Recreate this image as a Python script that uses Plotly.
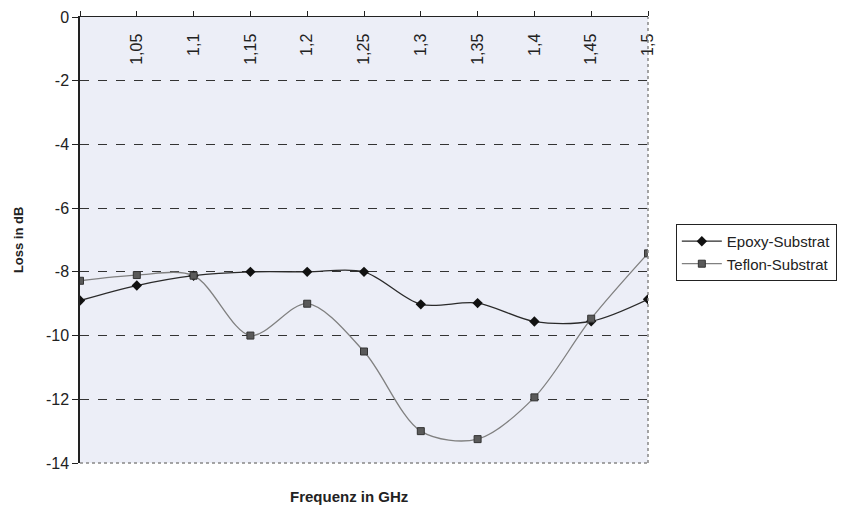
import plotly.graph_objects as go

freq = [1.0, 1.05, 1.1, 1.15, 1.2, 1.25, 1.3, 1.35, 1.4, 1.45, 1.5]
epoxy = [-8.9, -8.43, -8.12, -8.0, -8.0, -8.0, -9.02, -8.98, -9.56, -9.55, -8.86]
teflon = [-8.28, -8.1, -8.12, -10.0, -9.0, -10.5, -13.0, -13.25, -11.94, -9.47, -7.42]

x_tickvals = [1.0, 1.05, 1.1, 1.15, 1.2, 1.25, 1.3, 1.35, 1.4, 1.45, 1.5]
x_ticktext = ["", "1,05", "1,1", "1,15", "1,2", "1,25", "1,3", "1,35", "1,4", "1,45", "1,5"]
y_tickvals = [0, -2, -4, -6, -8, -10, -12, -14]
y_ticktext = ["0", "-2", "-4", "-6", "-8", "-10", "-12", "-14"]

FONT = "Liberation Sans, Arial, sans-serif"

fig = go.Figure()
fig.add_trace(go.Scatter(
    x=freq, y=epoxy, name="Epoxy-Substrat", mode="lines+markers",
    line=dict(color="#2a2a2a", width=1.3, shape="spline", smoothing=0.9),
    marker=dict(symbol="diamond", size=8, color="#111111"),
))
fig.add_trace(go.Scatter(
    x=freq, y=teflon, name="Teflon-Substrat", mode="lines+markers",
    line=dict(color="#808080", width=1.3, shape="spline", smoothing=0.9),
    marker=dict(symbol="square", size=7, color="#5a5a5a",
                line=dict(color="#333333", width=1)),
))

fig.update_layout(
    width=859, height=512,
    margin=dict(l=80, r=211, t=17, b=49),
    paper_bgcolor="white",
    plot_bgcolor="#eceef7",
    font=dict(family=FONT, size=16, color="#222222"),
    showlegend=True,
    legend=dict(
        x=1.049, y=0.536, xanchor="left", yanchor="top",
        bgcolor="rgba(255,255,255,0)", bordercolor="#222222", borderwidth=1,
        font=dict(family=FONT, size=15, color="#222222"),
        tracegroupgap=0, itemwidth=40,
    ),
    xaxis=dict(
        range=[1.0, 1.5], side="top", tickmode="array",
        tickvals=x_tickvals, ticktext=x_ticktext,
        ticks="outside", ticklen=5, tickcolor="#222222", tickwidth=1,
        ticklabelposition="inside", tickangle=-90, ticklabeloverflow="allow",
        ticklabelstandoff=8,
        showline=True, linecolor="#222222", linewidth=1.2,
        showgrid=False, zeroline=False, automargin=False,
        tickfont=dict(family=FONT, size=16, color="#222222"),
    ),
    xaxis2=dict(
        range=[1.0, 1.5], side="top", overlaying="x", tickmode="array",
        tickvals=x_tickvals, ticktext=["" for _ in x_tickvals],
        ticks="inside", ticklen=5, tickcolor="#222222", tickwidth=1,
        showline=False, showgrid=False, zeroline=False, showticklabels=False,
        automargin=False,
    ),
    yaxis=dict(
        range=[-14, 0], tickmode="array",
        tickvals=y_tickvals, ticktext=y_ticktext,
        ticks="outside", ticklen=6, tickcolor="#222222", tickwidth=1,
        ticklabeloverflow="allow",
        showline=True, linecolor="#222222", linewidth=1.5,
        showgrid=True, gridcolor="#333333", griddash="dash", gridwidth=1,
        zeroline=False, automargin=False,
        tickfont=dict(family=FONT, size=16, color="#222222"),
    ),
    annotations=[
        dict(text="<b>Loss in dB</b>", xref="paper", yref="paper",
             x=-0.109, y=0.5, xanchor="center", yanchor="middle",
             textangle=-90, showarrow=False,
             font=dict(family=FONT, size=13, color="#222222")),
        dict(text="<b>Frequenz in GHz</b>", xref="paper", yref="paper",
             x=0.4736, y=-0.076, xanchor="center", yanchor="middle",
             showarrow=False,
             font=dict(family=FONT, size=15, color="#222222")),
    ],
    shapes=[
        dict(type="line", xref="paper", yref="paper", x0=0, x1=1, y0=0, y1=0,
             line=dict(color="#888888", width=1.5, dash="dot")),
        dict(type="line", xref="paper", yref="paper", x0=1, x1=1, y0=0, y1=1,
             line=dict(color="#888888", width=1.5, dash="dot")),
    ],
)

fig.write_html("out.html",
               config={"displayModeBar": False},
               post_script="document.body.style.margin='0';document.body.style.padding='0';")
